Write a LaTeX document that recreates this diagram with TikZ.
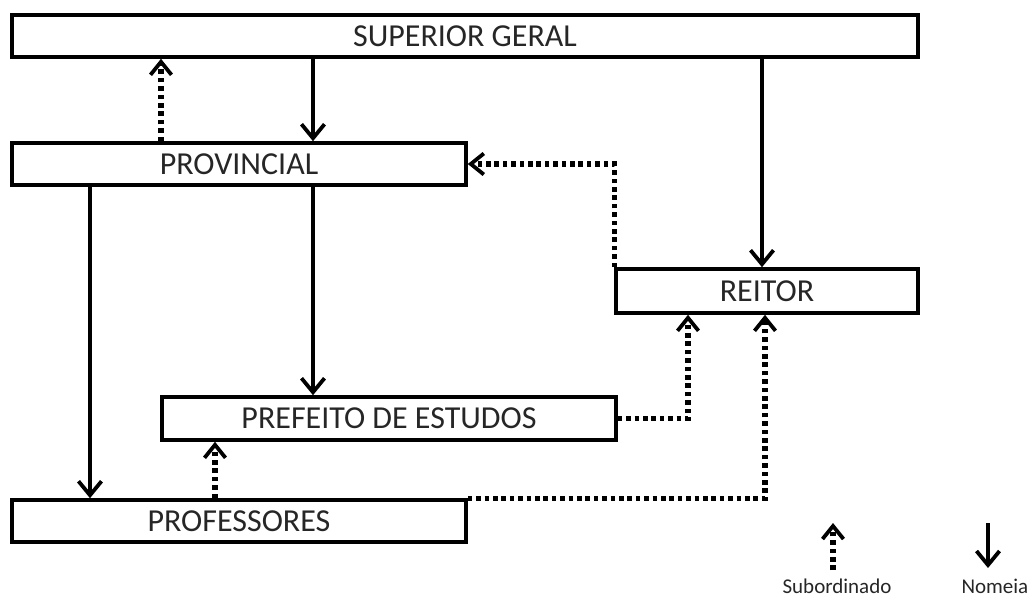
\documentclass[tikz,border=0pt]{standalone}
\usepackage{fontspec}
\setmainfont{Carlito}
\usetikzlibrary{arrows.meta}
\begin{document}
\begin{tikzpicture}[x=1pt,y=-1pt,
  box/.style={draw, line width=3.6pt, inner sep=0pt, text=black!85,
    font=\fontsize{32}{32}\selectfont},
  nom/.style={line width=3.8pt, -{Straight Barb[length=14pt,width=23pt,line width=3.8pt]}},
  sub/.style={line width=5.2pt, dash pattern=on 4.6pt off 3.8pt,
    -{Straight Barb[length=13pt,width=21pt,line width=3.8pt]}},
  leg/.style={text=black!85, font=\fontsize{21}{21}\selectfont}]
\useasboundingbox (0,0) rectangle (1032,598);
\node[box, minimum width=906pt, minimum height=42pt] (sg) at (465,36) {SUPERIOR GERAL};
\node[box, minimum width=454pt, minimum height=42pt] (prov) at (239,164) {PROVINCIAL};
\node[box, minimum width=302pt, minimum height=44pt] (reit) at (767,291) {REITOR};
\node[box, minimum width=454pt, minimum height=43pt] (pref) at (389,418.5) {PREFEITO DE ESTUDOS};
\node[box, minimum width=454pt, minimum height=42pt] (prof) at (239,521) {PROFESSORES};
% nomeia
\draw[nom] (313,0 |- sg.south) -- (313,0 |- prov.north);
\draw[nom] (762,0 |- sg.south) -- (762,0 |- reit.north);
\draw[nom] (313,0 |- prov.south) -- (313,0 |- pref.north);
\draw[nom] (90,0 |- prov.south) -- (90,0 |- prof.north);
% subordinado
\draw[sub] (161,0 |- prov.north) -- (161,0 |- sg.south);
\draw[sub] (reit.north west) |- (prov.east);
\draw[sub] (pref.east) -| (688,0 |- reit.south);
\draw[sub] (prof.north east) -| (765,0 |- reit.south);
\draw[sub] (215,0 |- prof.north) -- (215,0 |- pref.south);
% legend
\coordinate (s1) at (833,570);
\coordinate (s2) at (833,523);
\coordinate (n1) at (988,523);
\coordinate (n2) at (988,568);
\draw[sub] (s1) -- (s2);
\draw[nom] (n1) -- (n2);
\node[leg] (ls) at (837,586) {Subordinado};
\node[leg, anchor=west] (ln) at (958,586) {Nomeia};
\end{tikzpicture}
\end{document}
